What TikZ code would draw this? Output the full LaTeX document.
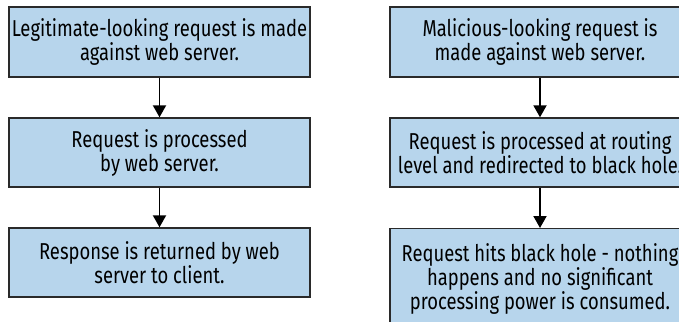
\documentclass[tikz,border=0pt]{standalone}
\usepackage{fontspec}
\setmainfont[FakeStretch=0.80]{Fira Sans}
\usetikzlibrary{arrows.meta}
\definecolor{boxblue}{HTML}{B7D5EC}
\definecolor{boxline}{HTML}{2A2A2A}
\tikzset{
    stepbox/.style={draw=boxline, line width=1.4pt, fill=boxblue, text=black,
        align=center, inner sep=2pt, font=\fontsize{23}{24}\selectfont},
    flow/.style={line width=1.9pt, -{Triangle[width=13pt,length=12pt]}}
}
\begin{document}
\begin{tikzpicture}[x=1pt,y=-1pt]
    \useasboundingbox (0,0) rectangle (679,321);
    \clip (0,0) rectangle (679,321);
    \fill[white] (0,0) rectangle (679,321);
    % legitimate path
    \node[stepbox, minimum width=301pt, minimum height=70pt] (l1) at (159.5,42)
        {Legitimate-looking request is made\\against web server.};
    \node[stepbox, minimum width=301pt, minimum height=69pt] (l2) at (159.5,152.5)
        {Request is processed\\by web server.};
    \node[stepbox, minimum width=301pt, minimum height=69pt] (l3) at (159.5,262.5)
        {Response is returned by web\\server to client.};
    \draw[flow] (l1) -- (l2);
    \draw[flow] (l2) -- (l3);
    % malicious path
    \node[stepbox, minimum width=300pt, minimum height=70pt] (m1) at (540,42)
        {Malicious-looking request is\\made against web server.};
    \node[stepbox, minimum width=300pt, minimum height=69pt] (m2) at (540,152.5)
        {Request is processed at routing\\level and redirected to black hole.};
    \node[stepbox, minimum width=300pt, minimum height=100pt, anchor=north] (m3) at (540,228)
        {Request hits black hole - nothing\\happens and no significant\\processing power is consumed.};
    \draw[flow] (m1) -- (m2);
    \draw[flow] (m2) -- (m3);
\end{tikzpicture}
\end{document}
